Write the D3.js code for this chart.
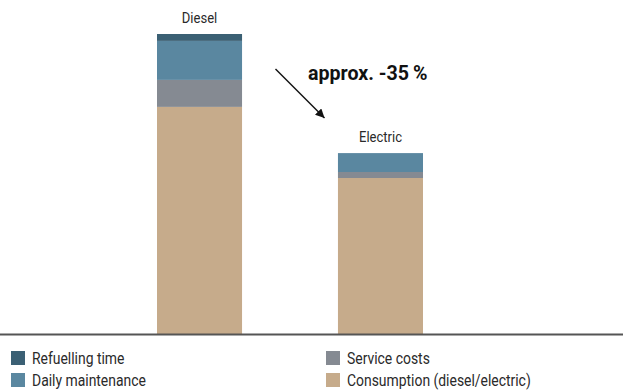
<!DOCTYPE html>
<html>
<head>
<meta charset="utf-8">
<script src="https://cdn.jsdelivr.net/npm/d3@7"></script>
<style>
  body { margin: 0; background: #fff; }
  text { font-family: Roboto, "DejaVu Sans", sans-serif; fill: #2a2a2a; }
</style>
</head>
<body>
<div id="chart"></div>
<script>
// Chart data (relative cost, diesel total = 100)
const categories = ['Diesel', 'Electric'];
const seriesNames = ['Consumption (diesel/electric)', 'Service costs', 'Daily maintenance', 'Refuelling time'];
const consumption = [75.7, 52.0];
const service = [9.0, 2.0];
const maintenance = [13.0, 6.3];
const refuelling = [2.3, 0];
const colors = ['#c6ab8b', '#858a92', '#5a87a0', '#3b6074'];
const annotation = 'approx. -35\u2009%';

const width = 623;
const height = 391;
const baseline = 334;
const condense = 0.87; // narrow the font horizontally (reference uses a condensed face)

const rows = categories.map((c, i) => ({
    category: c,
    [seriesNames[0]]: consumption[i],
    [seriesNames[1]]: service[i],
    [seriesNames[2]]: maintenance[i],
    [seriesNames[3]]: refuelling[i]
}));

const stack = d3.stack().keys(seriesNames)(rows);

const x = d3.scaleBand()
    .domain(categories)
    .range([157, 423])
    .paddingInner(0.53)
    .paddingOuter(0);

const y = d3.scaleLinear()
    .domain([0, 100])
    .range([baseline, 34]);

const color = d3.scaleOrdinal().domain(seriesNames).range(colors);

const svg = d3.select('#chart')
    .append('svg')
    .attr('width', width)
    .attr('height', height);

// Stacked bars
svg.selectAll('.layer')
    .data(stack)
    .enter()
    .append('g')
    .attr('class', 'layer')
    .attr('fill', d => color(d.key))
    .selectAll('rect')
    .data(d => d)
    .enter()
    .append('rect')
    .attr('x', d => x(d.data.category))
    .attr('y', d => y(d[1]))
    .attr('width', x.bandwidth())
    .attr('height', d => y(d[0]) - y(d[1]));

// Category labels above bars
svg.selectAll('.cat-label')
    .data(rows)
    .enter()
    .append('text')
    .attr('class', 'cat-label')
    .attr('transform', d => `translate(${x(d.category) + x.bandwidth() / 2},${y(d3.sum(seriesNames, k => d[k])) - 11.5}) scale(${condense},1)`)
    .attr('text-anchor', 'middle')
    .attr('font-size', '15px')
    .text(d => d.category);

// Baseline
svg.append('line')
    .attr('x1', 0)
    .attr('x2', width)
    .attr('y1', baseline + 0.5)
    .attr('y2', baseline + 0.5)
    .attr('stroke', '#555')
    .attr('stroke-width', 2);

// Arrow annotation
svg.append('defs').append('marker')
    .attr('id', 'arrowhead')
    .attr('viewBox', '0 -5 10 10')
    .attr('refX', 10)
    .attr('refY', 0)
    .attr('markerWidth', 9)
    .attr('markerHeight', 9)
    .attr('markerUnits', 'userSpaceOnUse')
    .attr('orient', 'auto')
    .append('path')
    .attr('d', 'M0,-5L10,0L0,5Z')
    .attr('fill', '#111');

svg.append('line')
    .attr('x1', 275.5)
    .attr('y1', 69)
    .attr('x2', 324.5)
    .attr('y2', 118)
    .attr('stroke', '#111')
    .attr('stroke-width', 1.4)
    .attr('marker-end', 'url(#arrowhead)');

svg.append('text')
    .attr('transform', `translate(308,80) scale(0.98,1)`)
    .attr('font-size', '20px')
    .attr('font-weight', 'bold')
    .style('fill', '#111')
    .text(annotation);

// Legend (two columns, order as in reference)
const legendItems = [
    { key: seriesNames[3], x: 11, y: 351 },
    { key: seriesNames[2], x: 11, y: 373 },
    { key: seriesNames[1], x: 326, y: 351 },
    { key: seriesNames[0], x: 326, y: 373 }
];

const legend = svg.selectAll('.legend')
    .data(legendItems)
    .enter()
    .append('g')
    .attr('class', 'legend')
    .attr('transform', d => `translate(${d.x},${d.y})`);

legend.append('rect')
    .attr('width', 14)
    .attr('height', 14)
    .attr('fill', d => color(d.key));

legend.append('text')
    .attr('transform', `translate(21,13) scale(${condense},1)`)
    .attr('font-size', '16px')
    .text(d => d.key);
</script>
</body>
</html>
